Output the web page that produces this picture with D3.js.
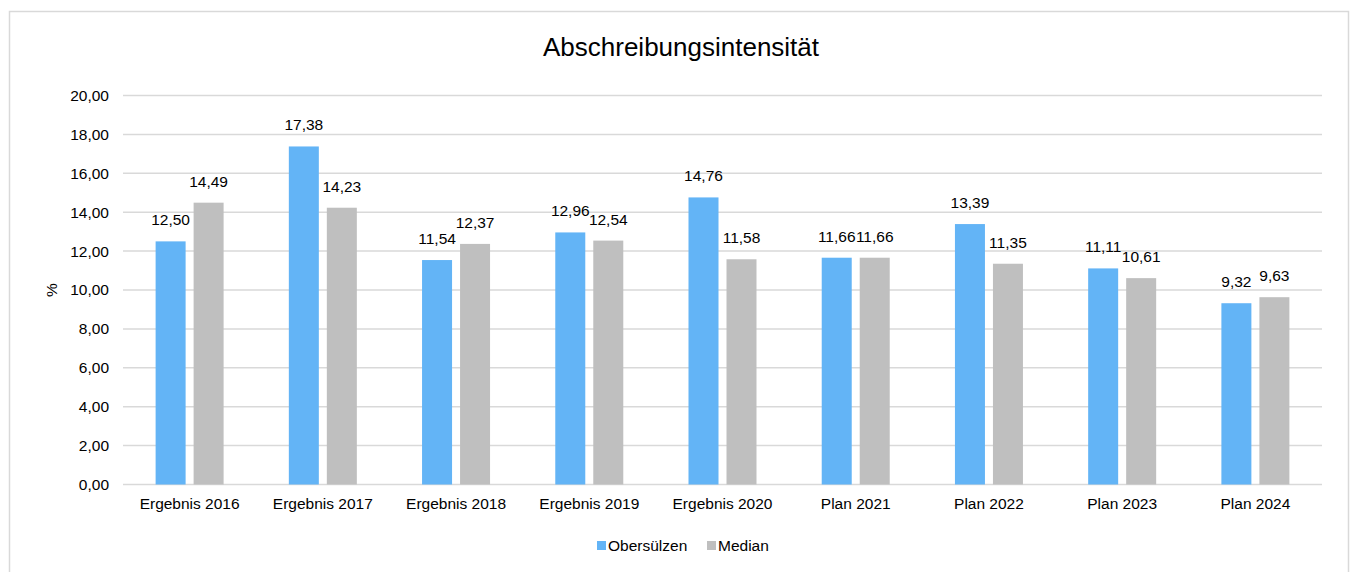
<!DOCTYPE html>
<html>
<head>
<meta charset="utf-8">
<script src="https://cdn.jsdelivr.net/npm/d3@7"></script>
<style>
  body { margin: 0; background: #fff; }
  text { font-family: "Liberation Sans", Arial, sans-serif; fill: #000; }
</style>
</head>
<body>
<div id="chart"></div>
<script>
var categories = ["Ergebnis 2016", "Ergebnis 2017", "Ergebnis 2018", "Ergebnis 2019", "Ergebnis 2020", "Plan 2021", "Plan 2022", "Plan 2023", "Plan 2024"];
var obersuelzen = [12.50, 17.38, 11.54, 12.96, 14.76, 11.66, 13.39, 11.11, 9.32];
var median = [14.49, 14.23, 12.37, 12.54, 11.58, 11.66, 11.35, 10.61, 9.63];
var seriesNames = ["Obersülzen", "Median"];
var yTicks = [0, 2, 4, 6, 8, 10, 12, 14, 16, 18, 20];

var w = 1351, h = 572;
var colors = ["#63b4f6", "#bfbfbf"];
var fs = 15.5;
var fmt = function (v) { return v.toFixed(2).replace(".", ","); };

var svg = d3.select("#chart").append("svg").attr("width", w).attr("height", h);

// chart frame
svg.append("rect").attr("x", 9.5).attr("y", 11.5).attr("width", 1339).attr("height", 600)
    .attr("fill", "none").attr("stroke", "#d9d9d9").attr("stroke-width", 1.5);

var plotLeft = 123, plotRight = 1322, plotTop = 95.5, plotBottom = 484.5;

var xScale = d3.scaleBand().domain(categories).range([plotLeft, plotRight]);
var yScale = d3.scaleLinear().domain([0, 20]).range([plotBottom, plotTop]);

// gridlines
svg.append("g").selectAll("line").data(yTicks).enter().append("line")
    .attr("x1", plotLeft).attr("x2", plotRight)
    .attr("y1", d => yScale(d)).attr("y2", d => yScale(d))
    .attr("stroke", "#d9d9d9").attr("stroke-width", 1.5);

// y axis labels
var yAxis = d3.axisLeft(yScale).tickValues(yTicks).tickFormat(fmt).tickSize(0).tickPadding(14);
var gy = svg.append("g").attr("transform", "translate(" + plotLeft + ",0)").call(yAxis);
gy.select(".domain").remove();
gy.selectAll("text").attr("font-size", fs).style("font-family", "Liberation Sans, Arial, sans-serif");

// x axis labels
var xAxis = d3.axisBottom(xScale).tickSize(0).tickPadding(13);
var gx = svg.append("g").attr("transform", "translate(0," + plotBottom + ")").call(xAxis);
gx.select(".domain").remove();
gx.selectAll("text").attr("font-size", fs).style("font-family", "Liberation Sans, Arial, sans-serif");

// bars
var barW = 30, gap = 8;
var series = [obersuelzen, median];
series.forEach(function (vals, s) {
    var off = s === 0 ? -gap / 2 - barW : gap / 2;
    var g = svg.append("g");
    g.selectAll("rect").data(vals).enter().append("rect")
        .attr("x", (d, i) => xScale(categories[i]) + xScale.bandwidth() / 2 + off)
        .attr("y", d => yScale(d))
        .attr("width", barW)
        .attr("height", d => plotBottom - yScale(d))
        .attr("fill", colors[s]);
    g.selectAll("text").data(vals).enter().append("text")
        .attr("x", (d, i) => xScale(categories[i]) + xScale.bandwidth() / 2 + off + barW / 2)
        .attr("y", d => yScale(d) - 16)
        .attr("text-anchor", "middle")
        .attr("font-size", fs)
        .text(fmt);
});

// title
svg.append("text").attr("x", 681).attr("y", 56).attr("text-anchor", "middle")
    .attr("font-size", 26).text("Abschreibungsintensität");

// y title
svg.append("text").attr("transform", "translate(57,290) rotate(-90)")
    .attr("text-anchor", "middle").attr("font-size", fs).text("%");

// legend
var legX = [597, 707];
seriesNames.forEach(function (n, i) {
    svg.append("rect").attr("x", legX[i]).attr("y", 541).attr("width", 9).attr("height", 9).attr("fill", colors[i]);
    svg.append("text").attr("x", legX[i] + 11).attr("y", 551).attr("font-size", fs).text(n);
});
</script>
</body>
</html>
